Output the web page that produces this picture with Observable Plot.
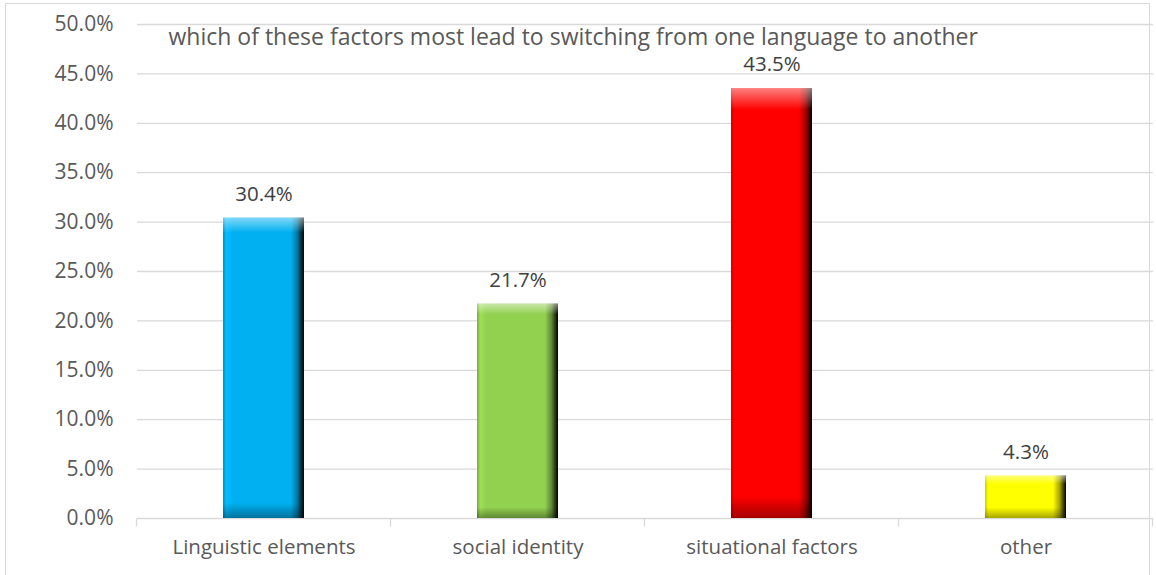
<!DOCTYPE html>
<html><head><meta charset="utf-8">
<script src="https://cdn.jsdelivr.net/npm/d3@7"></script>
<script src="https://cdn.jsdelivr.net/npm/@observablehq/plot@0.6"></script>
<style>
body{margin:0;background:#fff;}
#wrap{position:relative;width:1156px;height:575px;overflow:hidden;}
#frame{position:absolute;left:5px;top:3px;width:1145px;height:580px;border:1px solid #d9d9d9;box-sizing:border-box;}
#chart{position:absolute;left:0;top:0;}
svg text{font-family:"Open Sans",sans-serif;}
</style></head>
<body><div id="wrap"><div id="frame"></div><div id="chart"></div></div>
<script>
const title = "which of these factors most lead to switching from one language to another";
const categories = ["Linguistic elements", "social identity", "situational factors", "other"];
const values = [0.304, 0.217, 0.435, 0.043];
const colors = ["#00B0F0", "#92D050", "#FF0000", "#FFFF00"];
const yTicks = [0, 0.05, 0.10, 0.15, 0.20, 0.25, 0.30, 0.35, 0.40, 0.45, 0.50];

const data = categories.map((c, i) => ({cat: c, value: values[i], color: colors[i], gid: "g" + i}));
const padIn = 0.68, padOut = 0.34;

function bandTicks(index, scales, vals, dims) {
  const x = scales.x, y = scales.y;
  const step = x.step(), bw = x.bandwidth();
  const g = d3.create("svg:g").attr("stroke", "#d9d9d9").attr("stroke-width", 1.3);
  const y0 = Math.round(y(0)) + 0.5;
  const bounds = categories.map(c => x(c) + bw / 2 - step / 2).concat([x(categories[categories.length - 1]) + bw / 2 + step / 2]);
  bounds.forEach(b => g.append("line").attr("x1", b).attr("x2", b).attr("y1", y0).attr("y2", y0 + 8));
  return g.node();
}

const plot = Plot.plot({
  width: 1156, height: 575,
  marginLeft: 137, marginRight: 3, marginTop: 24, marginBottom: 57,
  style: {fontSize: "20px", color: "#595959", background: "transparent"},
  x: {domain: categories, paddingInner: padIn, paddingOuter: padOut, label: null},
  y: {domain: [0, 0.5], label: null},
  marks: [
    Plot.gridY(yTicks, {stroke: "#d9d9d9", strokeOpacity: 1, strokeWidth: 1.3}),
    Plot.axisY(yTicks, {tickSize: 0, tickPadding: 24, tickFormat: d3.format(".1%"), fontSize: 21, fill: "#595959"}),
    Plot.axisX({tickSize: 0, tickPadding: 21, fontSize: 20.5, fill: "#595959"}),
    bandTicks,
    Plot.barY(data, {x: "cat", y: "value", fill: d => `url(#${d.gid})`}),
    Plot.barY(data, {x: "cat", y: "value", fill: d => `url(#${d.gid}v)`}),
    Plot.text(data, {x: "cat", y: "value", text: d => d3.format(".1%")(d.value), dy: -24, fontSize: 20.5, fill: "#404040"}),
    Plot.text([title], {frameAnchor: "top-left", dx: 31, dy: 4, fontSize: 23, fill: "#595959", textAnchor: "start"})
  ]
});

// gradient defs for bevel shading
const svg = d3.select(plot);
const defs = svg.insert("defs", ":first-child");
data.forEach(d => {
  const base = d3.color(d.color);
  const h = defs.append("linearGradient").attr("id", d.gid).attr("x1", 0).attr("x2", 1).attr("y1", 0).attr("y2", 0);
  h.append("stop").attr("offset", "0%").attr("stop-color", base.darker(0.6));
  h.append("stop").attr("offset", "4%").attr("stop-color", base.brighter(0.2));
  h.append("stop").attr("offset", "12%").attr("stop-color", base);
  h.append("stop").attr("offset", "84%").attr("stop-color", base);
  h.append("stop").attr("offset", "92%").attr("stop-color", base.darker(1.2));
  h.append("stop").attr("offset", "100%").attr("stop-color", d3.rgb(0,0,0));
  const v = defs.append("linearGradient").attr("id", d.gid + "v").attr("x1", 0).attr("x2", 0).attr("y1", 0).attr("y2", 1);
  v.append("stop").attr("offset", "0%").attr("stop-color", "#fff").attr("stop-opacity", 0.5);
  v.append("stop").attr("offset", d.value < 0.1 ? "20%" : "5%").attr("stop-color", "#fff").attr("stop-opacity", 0.0);
  v.append("stop").attr("offset", d.value < 0.1 ? "75%" : "95%").attr("stop-color", "#000").attr("stop-opacity", 0.0);
  v.append("stop").attr("offset", "100%").attr("stop-color", "#000").attr("stop-opacity", 0.35);
});
document.getElementById("chart").appendChild(plot);
</script></body></html>
